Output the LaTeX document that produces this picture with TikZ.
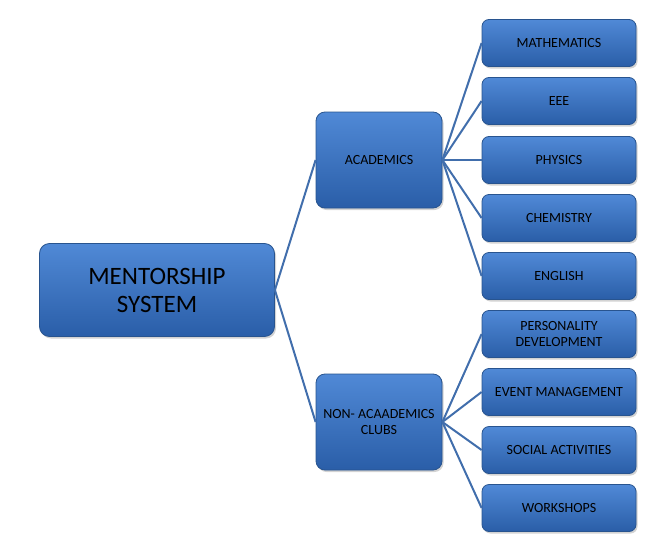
\documentclass[tikz,border=0pt]{standalone}
\usepackage{fontspec}
\setmainfont{Carlito}
\usetikzlibrary{shadows}
\definecolor{boxtop}{HTML}{5089D6}
\definecolor{boxbot}{HTML}{2A5EA8}
\definecolor{boxline}{HTML}{28548F}
\definecolor{conn}{HTML}{416EAC}
\tikzset{
  x=1pt,y=-1pt,
  bluebox/.style={draw=boxline, line width=0.8pt, top color=boxtop, bottom color=boxbot,
    rounded corners=7pt, align=center, text=black, inner sep=2pt,
    drop shadow={shadow xshift=1.5pt, shadow yshift=-2pt, opacity=0.35}},
  mainbox/.style={bluebox, minimum width=235pt, minimum height=93pt, rounded corners=10pt,
    font=\fontsize{25}{28}\selectfont},
  midbox/.style={bluebox, minimum width=126pt, minimum height=96pt, rounded corners=9pt,
    font=\fontsize{14}{16}\selectfont},
  leafbox/.style={bluebox, minimum width=154pt, minimum height=47pt,
    font=\fontsize{14}{16}\selectfont},
  link/.style={draw=conn, line width=2pt}
}
\begin{document}
\begin{tikzpicture}
\useasboundingbox (0,0) rectangle (664,541);
\node[mainbox] (main) at (157,290) {MENTORSHIP\\SYSTEM};
\node[midbox] (acad) at (379,160) {ACADEMICS};
\node[midbox] (non) at (379,422) {NON- ACAADEMICS\\CLUBS};
\node[leafbox] (math) at (559,43) {MATHEMATICS};
\node[leafbox] (eee) at (559,101) {EEE};
\node[leafbox] (phys) at (559,160) {PHYSICS};
\node[leafbox] (chem) at (559,218) {CHEMISTRY};
\node[leafbox] (eng) at (559,276) {ENGLISH};
\node[leafbox] (pers) at (559,334) {PERSONALITY\\DEVELOPMENT};
\node[leafbox] (event) at (559,392) {EVENT MANAGEMENT};
\node[leafbox] (soc) at (559,450) {SOCIAL ACTIVITIES};
\node[leafbox] (work) at (559,508) {WORKSHOPS};
\foreach \t in {acad,non} \draw[link] (main.east) -- (\t.west);
\foreach \t in {math,eee,phys,chem,eng} \draw[link] (acad.east) -- (\t.west);
\foreach \t in {pers,event,soc,work} \draw[link] (non.east) -- (\t.west);
\end{tikzpicture}
\end{document}
